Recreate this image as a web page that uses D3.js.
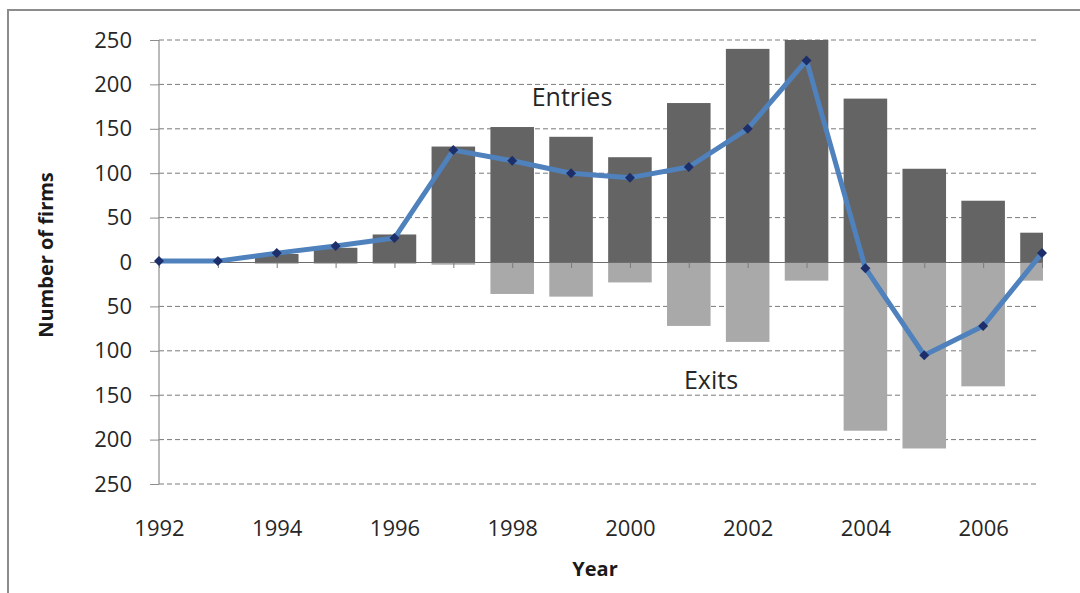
<!DOCTYPE html>
<html>
<head>
<meta charset="utf-8">
<script src="https://cdn.jsdelivr.net/npm/d3@7"></script>
<style>
  body { margin: 0; background: #fff; }
  svg { display: block; font-family: "Open Sans", sans-serif; }
  .axis path { display: none; }
  .axis text { fill: #262626; font-size: 22px; font-family: "Open Sans", sans-serif; }
</style>
</head>
<body>
<div id="chart"></div>
<script>
// values
var years   = [1992, 1993, 1994, 1995, 1996, 1997, 1998, 1999, 2000, 2001, 2002, 2003, 2004, 2005, 2006, 2007];
var entries = [0, 0, 9, 16, 31, 130, 152, 141, 118, 179, 240, 250, 184, 105, 69, 33];
var exits   = [0, 0, 2, 2, 2, 3, 36, 39, 23, 72, 90, 21, 190, 210, 140, 21];
var net     = [1, 1, 10, 18, 27, 126, 114, 100, 95, 107, 150, 227, -7, -105, -72, 10];
var yTicks  = [-250, -200, -150, -100, -50, 0, 50, 100, 150, 200, 250];
var xLabels = [1992, 1994, 1996, 1998, 2000, 2002, 2004, 2006];

var margin = {left: 159, right: 38, top: 40, bottom: 109};
var W = 1080, H = 593;
var width = W - margin.left - margin.right;
var height = H - margin.top - margin.bottom;

var svg = d3.select("#chart").append("svg").attr("width", W).attr("height", H);

// outer frame
svg.append("rect")
  .attr("x", 8).attr("y", 10).attr("width", W).attr("height", H)
  .attr("fill", "none").attr("stroke", "#8c8c8c").attr("stroke-width", 2);

var g = svg.append("g").attr("transform", "translate(" + margin.left + "," + margin.top + ")");

var x = d3.scaleLinear().domain([1992, 2007]).range([0, width]);
var y = d3.scaleLinear().domain([-250, 250]).range([height, 0]);
var barW = (x(1993) - x(1992)) * 0.74;

g.append("clipPath").attr("id", "plot")
  .append("rect").attr("x", 0).attr("y", -2).attr("width", width + 1).attr("height", height + 4);

// gridlines
g.append("g").selectAll("line").data(yTicks.filter(function(d){ return d !== 0; }))
  .enter().append("line")
  .attr("x1", 0).attr("x2", width - 4)
  .attr("y1", function(d){ return y(d); }).attr("y2", function(d){ return y(d); })
  .attr("stroke", "#7a7a7a").attr("stroke-width", 1).attr("stroke-dasharray", "5,3");

// y axis
var yAxis = d3.axisLeft(y).tickValues(yTicks).tickSize(9).tickPadding(18)
  .tickFormat(function(d){ return Math.abs(d); });
var ya = g.append("g").attr("class", "axis y").call(yAxis);
ya.selectAll("line").attr("stroke", "#8c8c8c");
g.append("line").attr("x1", 0).attr("x2", 0).attr("y1", 0).attr("y2", height)
  .attr("stroke", "#8c8c8c").attr("stroke-width", 1.2);

var bars = g.append("g").attr("clip-path", "url(#plot)");

// entries (up)
bars.selectAll("rect.entry").data(years).enter().append("rect")
  .attr("class", "entry")
  .attr("x", function(d){ return x(d) - barW / 2; })
  .attr("width", barW)
  .attr("y", function(d, i){ return y(entries[i]); })
  .attr("height", function(d, i){ return y(0) - y(entries[i]); })
  .attr("fill", "#646464");

// exits (down)
bars.selectAll("rect.exit").data(years).enter().append("rect")
  .attr("class", "exit")
  .attr("x", function(d){ return x(d) - barW / 2; })
  .attr("width", barW)
  .attr("y", y(0))
  .attr("height", function(d, i){ return y(-exits[i]) - y(0); })
  .attr("fill", "#a9a9a9");

// zero axis with small ticks at each year
var zAxis = d3.axisBottom(x).tickValues(years).tickSize(6).tickFormat("");
var za = g.append("g").attr("transform", "translate(0," + y(0) + ")").call(zAxis);
za.select("path").style("display", null).attr("stroke", "#6e6e6e").attr("d", "M0,0.5H" + width);
za.selectAll("line").attr("stroke", "#7a7a7a");

// x labels
var xAxis = d3.axisBottom(x).tickValues(xLabels).tickSize(0).tickPadding(36).tickFormat(d3.format("d"));
g.append("g").attr("class", "axis x").attr("transform", "translate(0," + height + ")").call(xAxis);

// net line
var line = d3.line()
  .x(function(d){ return x(d); })
  .y(function(d, i){ return y(net[i]); });

g.append("path").datum(years)
  .attr("d", line)
  .attr("fill", "none")
  .attr("stroke", "#4f81bd")
  .attr("stroke-width", 5)
  .attr("stroke-linejoin", "round");

g.append("g").selectAll("path").data(years).enter().append("path")
  .attr("d", d3.symbol().type(d3.symbolSquare).size(50))
  .attr("transform", function(d, i){ return "translate(" + x(d) + "," + y(net[i]) + ") rotate(45)"; })
  .attr("fill", "#1c2f6b");

// in-plot labels
svg.append("text").attr("x", 572).attr("y", 106).attr("text-anchor", "middle")
  .style("font-size", "25px").attr("fill", "#262626").text("Entries");
svg.append("text").attr("x", 711).attr("y", 389).attr("text-anchor", "middle")
  .style("font-size", "25px").attr("fill", "#262626").text("Exits");

// axis titles
svg.append("text")
  .attr("transform", "translate(53,255) rotate(-90)")
  .attr("text-anchor", "middle")
  .style("font-size", "20px").style("font-weight", "bold").attr("fill", "#1a1a1a")
  .text("Number of firms");

svg.append("text").attr("x", 595).attr("y", 576).attr("text-anchor", "middle")
  .style("font-size", "20px").style("font-weight", "bold").attr("fill", "#1a1a1a")
  .text("Year");
</script>
</body>
</html>
